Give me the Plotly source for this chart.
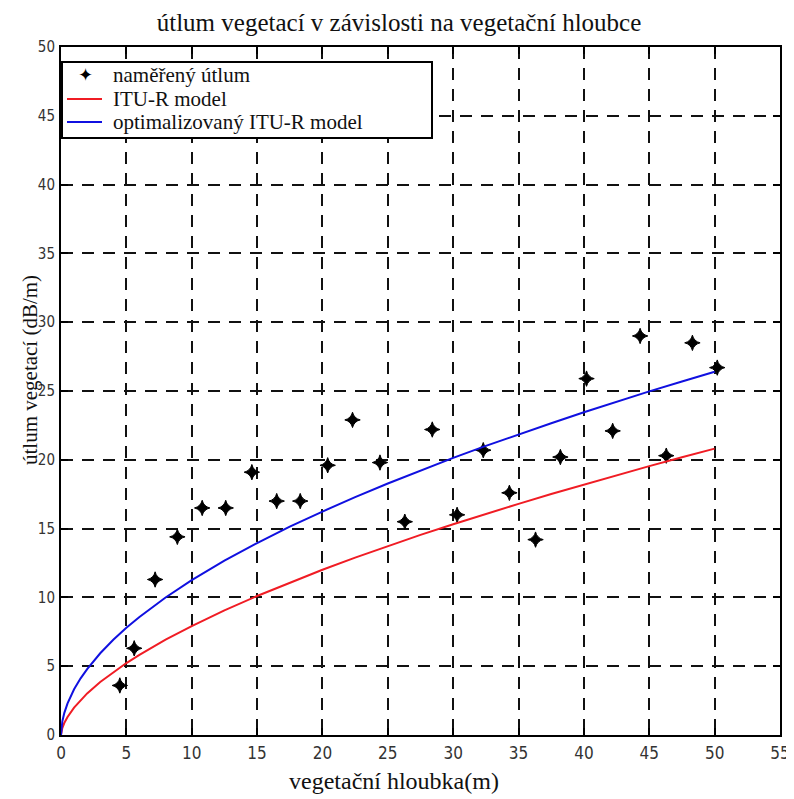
import plotly.graph_objects as go

meas_x = [4.5, 5.6, 7.2, 8.9, 10.8, 12.6, 14.6, 16.5, 18.3, 20.4, 22.3, 24.4, 26.3,
          28.4, 30.3, 32.3, 34.3, 36.3, 38.2, 40.2, 42.2, 44.3, 46.3, 48.3, 50.2]
meas_y = [3.6, 6.3, 11.3, 14.4, 16.5, 16.5, 19.1, 17.0, 17.0, 19.6, 22.9, 19.8, 15.5,
          22.2, 16.0, 20.7, 17.6, 14.2, 20.2, 25.9, 22.1, 29.0, 20.3, 28.5, 26.7]

# model curves
curve_x = [0, 0.1, 0.25, 0.5, 1, 1.5, 2, 3, 4, 5, 6, 8, 10, 12.5, 15, 17.5, 20, 22.5,
           25, 27.5, 30, 32.5, 35, 37.5, 40, 42.5, 45, 47.5, 50]
itu_y = [0, 0.50, 0.87, 1.31, 1.99, 2.54, 3.02, 3.85, 4.57, 5.23, 5.83, 6.93, 7.92, 9.06,
         10.10, 11.08, 12.01, 12.89, 13.73, 14.54, 15.32, 16.07, 16.80, 17.51, 18.20,
         18.88, 19.54, 20.18, 20.81]
opt_y = [0, 0.98, 1.59, 2.30, 3.32, 4.12, 4.79, 5.94, 6.92, 7.79, 8.58, 9.99, 11.25, 12.67,
         13.95, 15.14, 16.24, 17.29, 18.28, 19.23, 20.14, 21.01, 21.85, 22.66, 23.46,
         24.23, 24.97, 25.69, 26.40]

x_ticks = list(range(0, 56, 5))
y_ticks = list(range(0, 51, 5))

series_names = ["naměřený útlum", "ITU-R model", "optimalizovaný ITU-R model"]
series_colors = ["black", "#f01c24", "#1010e0"]

serif = "Liberation Serif, Times New Roman, serif"
narrow = "Liberation Sans Narrow, DejaVu Sans Condensed, Arial Narrow, sans-serif"

fig = go.Figure()
fig.add_trace(go.Scatter(
    x=meas_x, y=meas_y, mode="markers", name=series_names[0], showlegend=False,
    marker=dict(symbol="star-diamond", size=11, color=series_colors[0],
                line=dict(color="black", width=1))))
fig.add_trace(go.Scatter(
    x=curve_x, y=itu_y, mode="lines", name=series_names[1], showlegend=False,
    line=dict(color=series_colors[1], width=2)))
fig.add_trace(go.Scatter(
    x=curve_x, y=opt_y, mode="lines", name=series_names[2], showlegend=False,
    line=dict(color=series_colors[2], width=2)))

axis_common = dict(
    showline=True, linecolor="black", linewidth=2, mirror="ticks",
    ticks="inside", ticklen=7, tickwidth=2, tickcolor="black",
    showgrid=True, gridcolor="#111111", gridwidth=2, griddash="12px,9px",
    zeroline=False, automargin=False,
)

fig.update_xaxes(range=[0, 55], tickvals=x_ticks, ticktext=[str(v) for v in x_ticks],
                 tickfont=dict(family=narrow, size=17, color="#333333"),
                 ticklabelstandoff=2, **axis_common)
fig.update_yaxes(range=[0, 50], tickvals=y_ticks, ticktext=[str(v) for v in y_ticks],
                 tickfont=dict(family=narrow, size=15, color="#333333"),
                 ticklabelstandoff=1, **axis_common)

# page has an 8px body margin, so the figure is sized/placed to compensate
W, H = 786, 791
PL, PT, PW, PH = 53, 39, 719, 688


def px(xpage):
    return (xpage - 8 - PL) / PW


def py(ypage):
    return 1 - (ypage - 8 - PT) / PH


shapes = [
    # legend frame
    dict(type="rect", xref="paper", yref="paper", x0=px(62), x1=px(432),
         y0=py(138), y1=py(62), fillcolor="white", line=dict(color="black", width=2),
         layer="above"),
    dict(type="line", xref="paper", yref="paper", x0=px(67), x1=px(102),
         y0=py(99), y1=py(99), line=dict(color=series_colors[1], width=2)),
    dict(type="line", xref="paper", yref="paper", x0=px(67), x1=px(102),
         y0=py(122), y1=py(122), line=dict(color=series_colors[2], width=2)),
]

annotations = [
    dict(text="✦", xref="paper", yref="paper", x=px(85), y=py(75),
         xanchor="center", yanchor="middle", showarrow=False,
         font=dict(family="DejaVu Sans", size=18, color="black")),
]
for name, yy in zip(series_names, [75, 99, 122]):
    annotations.append(dict(
        text=name, xref="paper", yref="paper", x=px(111), y=py(yy),
        xanchor="left", yanchor="middle", showarrow=False,
        font=dict(family=serif, size=21, color="#111111")))

annotations += [
    dict(text="vegetační hloubka(m)", xref="paper", yref="paper",
         x=px(394), y=py(781), xanchor="center", yanchor="middle", showarrow=False,
         font=dict(family=serif, size=24, color="#111111")),
    dict(text="útlum vegetací (dB/m)", xref="paper", yref="paper",
         x=px(30), y=py(370), xanchor="center", yanchor="middle", showarrow=False,
         textangle=-90,
         font=dict(family=serif, size=21, color="#111111")),
]

fig.update_layout(
    width=W, height=H,
    margin=dict(l=PL, r=W - PL - PW, t=PT, b=H - PT - PH, autoexpand=False),
    paper_bgcolor="white", plot_bgcolor="white",
    title=dict(text="útlum vegetací v závislosti na vegetační hloubce",
               font=dict(family=serif, size=25, color="#111111"),
               x=(399 - 8) / W, xref="container", xanchor="center",
               y=1 - (22 - 8) / H, yref="container", yanchor="middle"),
    showlegend=False,
    shapes=shapes,
    annotations=annotations,
)

fig.write_html("out.html")
